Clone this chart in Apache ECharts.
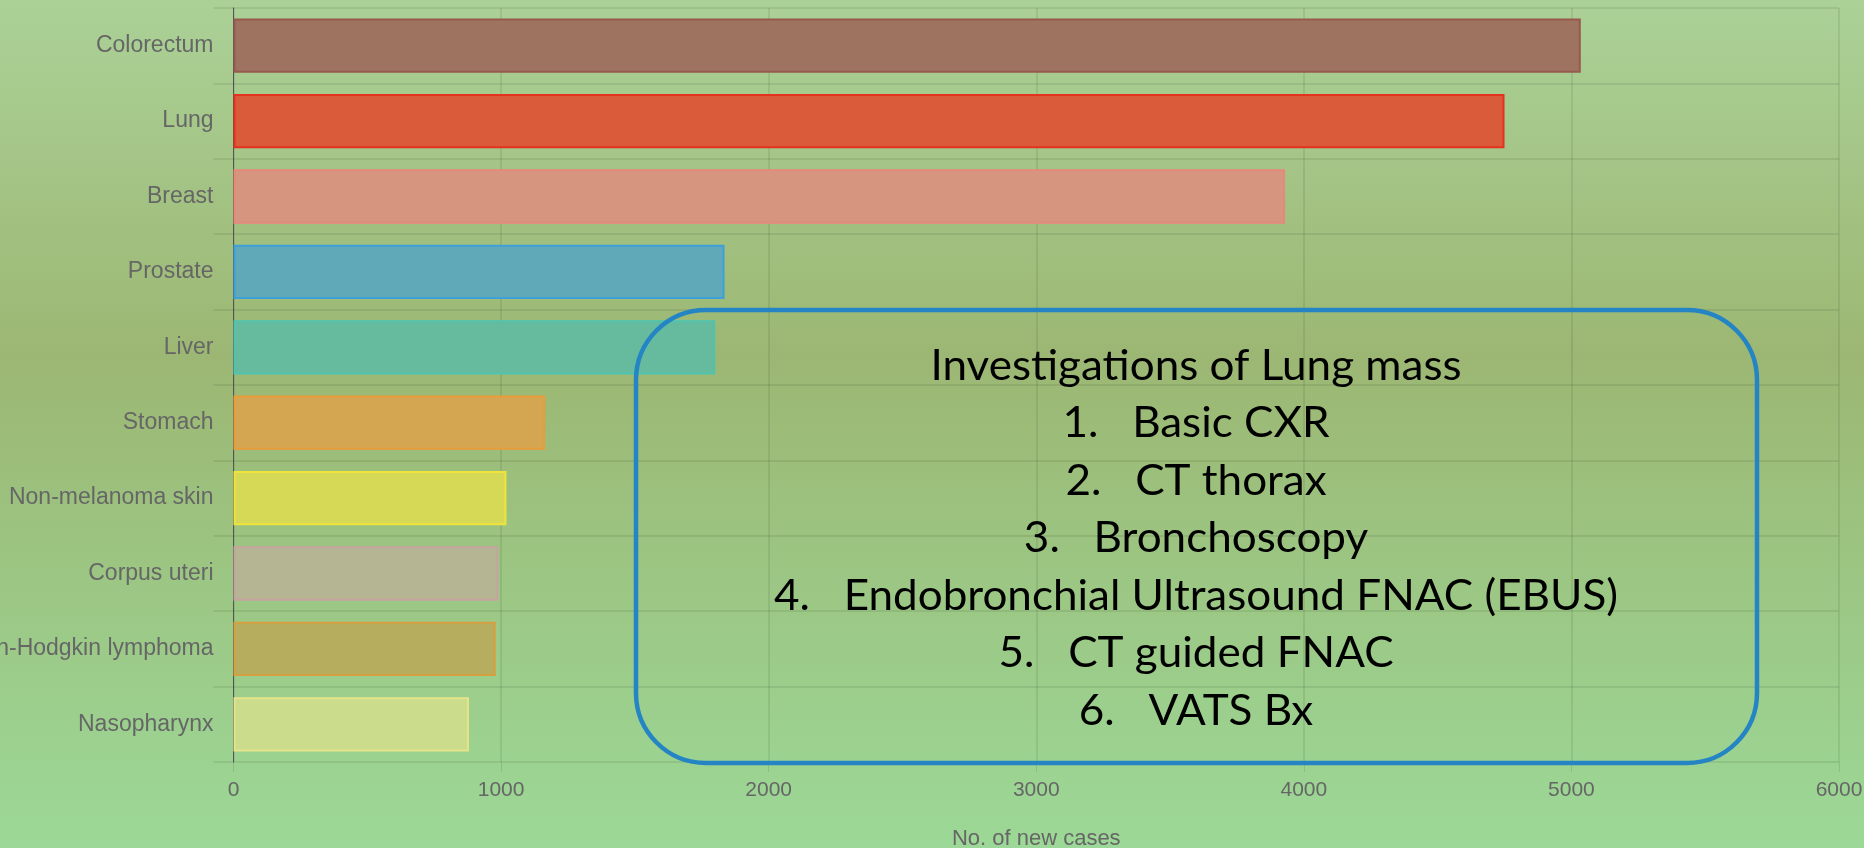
<!DOCTYPE html>
<html>
<head>
<meta charset="utf-8">
<script src="https://cdn.jsdelivr.net/npm/echarts@6/dist/echarts.min.js"></script>
<style>
html,body{margin:0;padding:0;width:1864px;height:848px;overflow:hidden;}
#chart{width:1864px;height:848px;}
</style>
</head>
<body>
<div id="chart"></div>
<script>
// ---- data ----
const categories = ['Colorectum','Lung','Breast','Prostate','Liver','Stomach','Non-melanoma skin','Corpus uteri','Non-Hodgkin lymphoma','Nasopharynx'];
const newCases = [5035, 4750, 3930, 1835, 1800, 1165, 1020, 990, 980, 880];
const fillColors = ['#9e7461','#d95b3a','#d6957f','#5fa9b9','#66bb9e','#d4a652','#d6d956','#b5b593','#b6ae5e','#ccdc8d'];
const borderColors = ['#98594f','#e4321f','#e8877b','#3f9fd8','#4ec3b0','#ea9b3a','#f0e33c','#c6a2a0','#d6a040','#e6e48a'];
const xTicks = [0,1000,2000,3000,4000,5000,6000];
const noteLines = [
  'Investigations of Lung mass',
  '1.   Basic CXR',
  '2.   CT thorax',
  '3.   Bronchoscopy',
  '4.   Endobronchial Ultrasound FNAC (EBUS)',
  '5.   CT guided FNAC',
  '6.   VATS Bx'
];

const chart = echarts.init(document.getElementById('chart'));

const noteFont = 'Lato';
const noteSize = 42;
const ctx = document.createElement('canvas').getContext('2d');
ctx.font = noteSize + 'px ' + noteFont;
const sx = 531 / ctx.measureText(noteLines[0]).width;

const lineY0 = 366, lineStep = 57.5, centerX = 1196;
const noteGraphics = [{
  type: 'rect',
  shape: {x: 636, y: 310, width: 1121, height: 453, r: 70},
  style: {fill: 'none', stroke: '#2585c4', lineWidth: 4.5},
  z: 100
}];
noteLines.forEach((t, i) => {
  noteGraphics.push({
    type: 'text',
    x: centerX, y: lineY0 + i * lineStep,
    scaleX: sx,
    style: {text: t, font: noteSize + 'px ' + noteFont, fill: '#000', textAlign: 'center', textVerticalAlign: 'middle'},
    z: 101
  });
});

const option = {
  backgroundColor: new echarts.graphic.LinearGradient(0, 0, 0, 1, [
    {offset: 0, color: '#abd197'},
    {offset: 0.42, color: '#9cb773'},
    {offset: 1, color: '#9cd897'}
  ]),
  animation: false,
  grid: {left: 233.5, right: 25, top: 8, bottom: 86, containLabel: false, outerBoundsMode: 'none'},
  xAxis: {
    type: 'value', min: 0, max: 6000, interval: 1000,
    name: 'No. of new cases', nameLocation: 'middle', nameGap: 66,
    nameTextStyle: {color: '#666', fontSize: 22, fontFamily: 'Liberation Sans'},
    axisLine: {show: false},
    axisTick: {show: true, length: 10, lineStyle: {color: 'rgba(0,0,0,0.1)'}},
    axisLabel: {color: '#666', fontSize: 21, fontFamily: 'Liberation Sans', margin: 18,
      formatter: v => xTicks.includes(v) ? String(v) : ''},
    splitLine: {show: true, lineStyle: {color: 'rgba(0,0,0,0.1)', width: 1.5}}
  },
  yAxis: {
    type: 'category', data: categories, inverse: true,
    axisLine: {show: true, lineStyle: {color: '#555', width: 1}},
    axisTick: {show: true, length: 20, lineStyle: {color: 'rgba(0,0,0,0.1)', width: 1.5}},
    axisLabel: {color: '#666', fontSize: 23, fontFamily: 'Liberation Sans', margin: 20},
    splitLine: {show: true, lineStyle: {color: 'rgba(0,0,0,0.1)', width: 1.5}}
  },
  series: [{
    type: 'bar',
    barWidth: '72%',
    data: newCases.map((v, i) => ({
      value: v,
      itemStyle: {color: fillColors[i], borderColor: borderColors[i], borderWidth: 2}
    }))
  }],
  graphic: noteGraphics
};
chart.setOption(option);
</script>
</body>
</html>
